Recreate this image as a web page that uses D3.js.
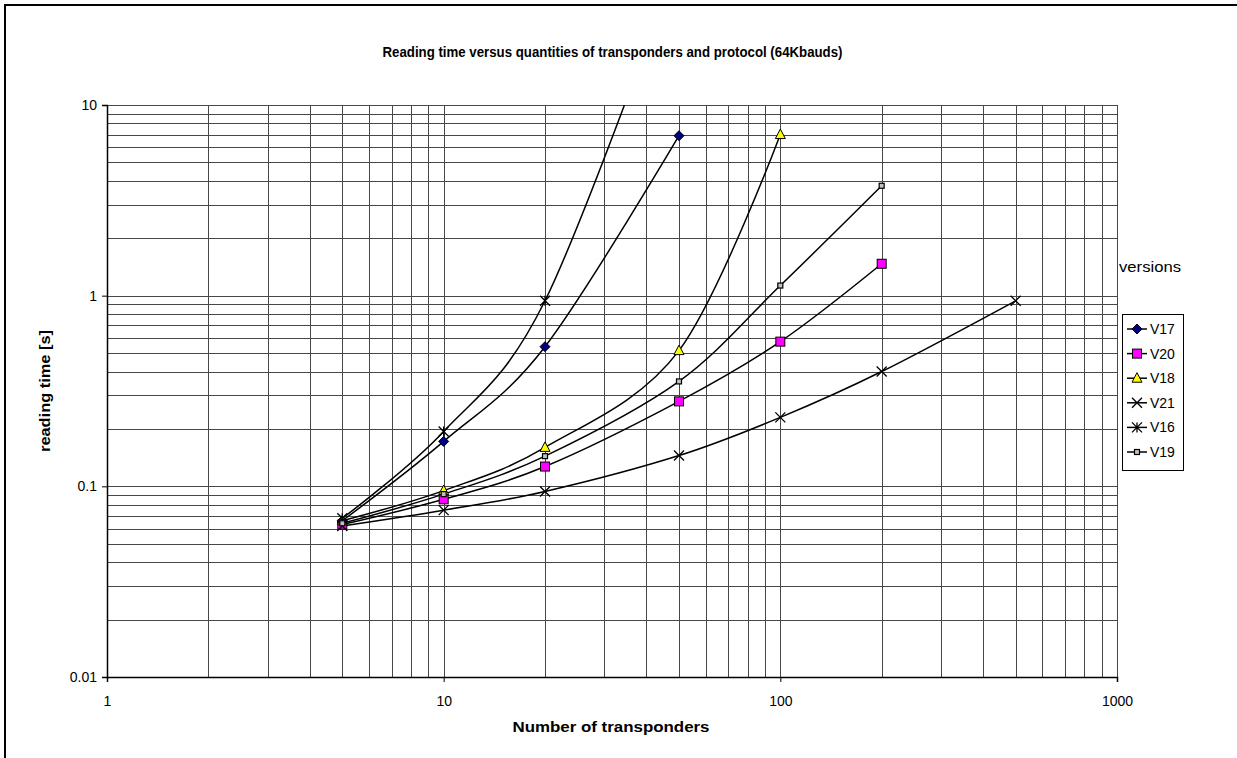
<!DOCTYPE html>
<html><head><meta charset="utf-8">
<script src="https://cdn.jsdelivr.net/npm/d3@7"></script>
<style>html,body{margin:0;background:#fff;overflow:hidden}svg{display:block}text{font-family:Arial,"Liberation Sans",sans-serif}</style>
</head><body>
<svg id="c" width="1237" height="758"></svg>
<script>
const xValues = [5, 10, 20, 50, 100, 200, 500];
const seriesNames = ["V17", "V20", "V18", "V21", "V16", "V19"];
const V17 = [0.066, 0.172, 0.54, 6.9];
const V20 = [0.063, 0.0855, 0.127, 0.279, 0.574, 1.47];
const V18 = [0.066, 0.095, 0.16, 0.515, 7.0];
const V21 = [0.062, 0.075, 0.094, 0.145, 0.23, 0.40, 0.94];
const V16 = [0.068, 0.194, 0.94, 60];
const V19 = [0.064, 0.091, 0.144, 0.355, 1.13, 3.77];
const xTicks = [1, 10, 100, 1000];
const yTicks = [0.01, 0.1, 1, 10];
const title = "Reading time versus quantities of transponders and protocol (64Kbauds)";
const xLabel = "Number of transponders";
const yLabel = "reading time [s]";
const legendTitle = "versions";

const data = [V17, V20, V18, V21, V16, V19];
const styles = {
  V17: {shape: "diamond", fill: "#000080"},
  V20: {shape: "square", fill: "#ff00ff"},
  V18: {shape: "triangle", fill: "#ffff00"},
  V21: {shape: "x", fill: "none"},
  V16: {shape: "star", fill: "none"},
  V19: {shape: "smallsquare", fill: "#c0c0c0"}
};

const svg = d3.select("#c");
const L = 107, R = 1117, T = 105, B = 677;
const x = d3.scaleLog().domain([1, 1000]).range([L, R]);
const y = d3.scaleLog().domain([0.01, 10]).range([B, T]);

// outer frame (left and top edges visible)
svg.append("path").attr("d", "M5,760V5H1240").attr("fill", "none").attr("stroke", "#000").attr("stroke-width", 2);

// grid
const grid = svg.append("g").attr("stroke", "#474747").attr("stroke-width", 1).attr("shape-rendering", "crispEdges");
const xg = [], yg = [];
for (let d = 1; d < 1000; d *= 10) for (let k = 1; k <= 9; k++) xg.push(d * k);
xg.push(1000);
for (let d = 0.01; d < 9; d *= 10) for (let k = 1; k <= 9; k++) yg.push(+(d * k).toPrecision(3));
yg.push(10);
grid.selectAll("line.gy").data(yg).join("line").attr("x1", L).attr("x2", R)
  .attr("y1", d => Math.round(y(d)) + 0.5).attr("y2", d => Math.round(y(d)) + 0.5);
grid.selectAll("line.gx").data(xg).join("line").attr("y1", T).attr("y2", B)
  .attr("x1", d => Math.round(x(d)) + 0.5).attr("x2", d => Math.round(x(d)) + 0.5);

// axes
const xAxis = d3.axisBottom(x).tickValues(xTicks).tickFormat(d3.format("d")).tickSize(5).tickPadding(14);
const yAxis = d3.axisLeft(y).tickValues(yTicks).tickFormat(d => d >= 1 ? d3.format("d")(d) : String(d)).tickSize(5).tickPadding(5);
const gx = svg.append("g").attr("transform", `translate(0,${B})`).call(xAxis);
const gy = svg.append("g").attr("transform", `translate(${L},0)`).call(yAxis);
[gx, gy].forEach(g => {
  g.select(".domain").attr("stroke", "#000").attr("stroke-width", 1.5);
  g.selectAll(".tick line").attr("stroke", "#000");
  g.selectAll("text").attr("font-size", 14).attr("fill", "#000").attr("font-family", "Arial, 'Liberation Sans', sans-serif");
});

// titles
svg.append("text").attr("x", 612.5).attr("y", 57).attr("text-anchor", "middle")
  .attr("font-size", 15).attr("font-weight", "bold")
  .attr("textLength", 460).attr("lengthAdjust", "spacingAndGlyphs").text(title);
svg.append("text").attr("x", 611).attr("y", 732).attr("text-anchor", "middle")
  .attr("font-size", 15).attr("font-weight", "bold")
  .attr("textLength", 197).attr("lengthAdjust", "spacingAndGlyphs").text(xLabel);
svg.append("text").attr("transform", `translate(50,391) rotate(-90)`).attr("text-anchor", "middle")
  .attr("font-size", 15).attr("font-weight", "bold")
  .attr("textLength", 122).attr("lengthAdjust", "spacingAndGlyphs").text(yLabel);

// clip
svg.append("clipPath").attr("id", "clip").append("rect").attr("x", L).attr("y", T).attr("width", R - L).attr("height", B - T);

const line = d3.line().curve(d3.curveCatmullRom.alpha(0)).x(d => x(d[0])).y(d => y(d[1]));
const plot = svg.append("g").attr("clip-path", "url(#clip)");
data.forEach((vals, i) => {
  const pts = vals.map((v, j) => [xValues[j], v]);
  plot.append("path").attr("d", line(pts)).attr("fill", "none").attr("stroke", "#000").attr("stroke-width", 1.5);
});

function marker(g, shape, fill, cx, cy) {
  if (shape === "diamond") {
    g.append("path").attr("d", `M${cx},${cy-5}L${cx+5},${cy}L${cx},${cy+5}L${cx-5},${cy}Z`)
      .attr("fill", fill).attr("stroke", "#000").attr("stroke-width", 1);
  } else if (shape === "square") {
    g.append("rect").attr("x", cx - 4.5).attr("y", cy - 4.5).attr("width", 9).attr("height", 9)
      .attr("fill", fill).attr("stroke", "#000").attr("stroke-width", 1);
  } else if (shape === "smallsquare") {
    g.append("rect").attr("x", cx - 2.5).attr("y", cy - 2.5).attr("width", 5).attr("height", 5)
      .attr("fill", fill).attr("stroke", "#000").attr("stroke-width", 1.2);
  } else if (shape === "triangle") {
    g.append("path").attr("d", `M${cx},${cy-5.5}L${cx+5},${cy+4}L${cx-5},${cy+4}Z`)
      .attr("fill", fill).attr("stroke", "#000").attr("stroke-width", 1);
  } else if (shape === "x") {
    g.append("path").attr("d", `M${cx-5},${cy-5}L${cx+5},${cy+5}M${cx-5},${cy+5}L${cx+5},${cy-5}`)
      .attr("stroke", "#000").attr("stroke-width", 1.3);
  } else if (shape === "star") {
    g.append("path").attr("d", `M${cx-5},${cy-5}L${cx+5},${cy+5}M${cx-5},${cy+5}L${cx+5},${cy-5}M${cx},${cy-5}L${cx},${cy+5}`)
      .attr("stroke", "#000").attr("stroke-width", 1.3);
  }
}

const mk = svg.append("g");
data.forEach((vals, i) => {
  const st = styles[seriesNames[i]];
  vals.forEach((v, j) => {
    if (v <= 10) marker(mk, st.shape, st.fill, x(xValues[j]), y(v));
  });
});

// legend
svg.append("text").attr("x", 1150).attr("y", 272).attr("text-anchor", "middle").attr("font-size", 14)
  .attr("textLength", 62).attr("lengthAdjust", "spacingAndGlyphs").text(legendTitle);
const lg = svg.append("g");
lg.append("rect").attr("x", 1122.5).attr("y", 314.5).attr("width", 61).attr("height", 156)
  .attr("fill", "#fff").attr("stroke", "#000").attr("stroke-width", 1);
seriesNames.forEach((n, i) => {
  const yy = 329 + i * 24.6;
  lg.append("line").attr("x1", 1127).attr("x2", 1147).attr("y1", yy).attr("y2", yy).attr("stroke", "#000").attr("stroke-width", 1.5);
  marker(lg, styles[n].shape, styles[n].fill, 1137, yy);
  lg.append("text").attr("x", 1150).attr("y", yy + 5).attr("font-size", 14).text(n);
});
</script>
</body></html>
